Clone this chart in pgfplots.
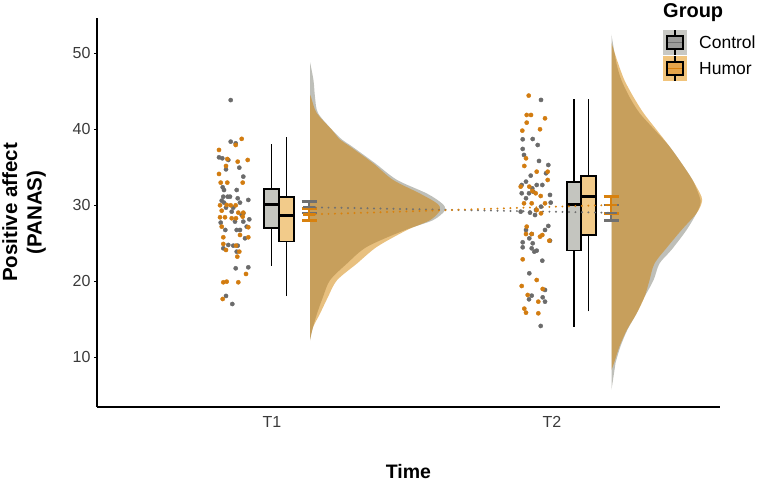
\documentclass[border=0pt]{standalone}
\usepackage{pgfplots}
\pgfplotsset{compat=1.18}
\usepackage{pgfplotstable}
\usepackage{fontspec}
\setmainfont{Liberation Sans}

\definecolor{ptgray}{HTML}{6B6B6B}
\definecolor{ptorange}{HTML}{D27C10}
\definecolor{boxgray}{HTML}{C4C5BF}
\definecolor{boxorange}{HTML}{F2CB8A}
\definecolor{viogray}{HTML}{BEBFB9}
\definecolor{vioorange}{HTML}{D18100}
\definecolor{errgray}{HTML}{707070}
\definecolor{errorange}{HTML}{D8810E}
\definecolor{keybggray}{HTML}{C8C8C3}
\definecolor{keyboxgray}{HTML}{9C9C9A}
\definecolor{keybgorange}{HTML}{F1C47C}
\definecolor{keyboxorange}{HTML}{E6A54A}
\definecolor{ticktext}{HTML}{3A3A3A}

% violin profiles: value v, half-width w (px)
\pgfplotstableread{
v w
12.2 0
13.9 3
15.7 7
17.9 13
20.1 20
22.3 37
24.5 57
26.7 95
28.0 123
29.3 135
30.2 132
31.5 117
33.3 87
35.5 65
37.7 42
38.6 32
39.9 22
42.1 8
44.2 5
46.4 3.5
48.8 0
}\vioCtrlTone
\pgfplotstableread{
v w
12.2 0
13.9 3
15.7 10
17.9 18
20.1 27
22.3 47
24.5 67
26.7 97
28.0 120
29.3 130
30.2 127
31.5 110
33.3 83
35.5 63
37.7 40
38.6 30
39.9 21.7
42.1 6.7
44.2 1
44.5 0
}\vioHumTone
\pgfplotstableread{
v w
5.7 0
8.3 3
9.2 4
11.4 9
13.6 16
15.7 25
17.9 33
20.1 42
22.3 48
24.1 60
26.7 75
28.9 85
30.2 89
31.1 88
33.3 81
35.5 70
37.7 58
39.9 43
42.1 28
44.2 18
46.4 10
48.6 5
52.4 0
}\vioCtrlTtwo
\pgfplotstableread{
v w
8.3 0
9.2 2.5
11.4 8
13.6 15.5
15.7 25
17.9 33
20.1 38
22.3 43
24.5 56
26.7 70
28.9 85
30.2 90
31.1 90
33.3 81
35.5 70
37.7 58
39.9 45
42.1 32
44.2 22
46.4 13
48.6 6.7
51.3 0
}\vioHumTtwo

\begin{document}
\begin{tikzpicture}
\path[use as bounding box] (0,0) rectangle (765pt,482pt);
\begin{axis}[
  at={(97pt,75pt)}, anchor=south west,
  scale only axis, width=623pt, height=389pt,
  xmin=97, xmax=720, ymin=3.42, ymax=54.6,
  axis lines*=left,
  axis line style={line width=1.1pt, -},
  xtick={272,552}, xticklabels={T1,T2},
  ytick={10,20,30,40,50},
  tick align=outside, major tick length=3pt,
  x tick style={draw=none},
  y tick style={line width=0.8pt, black},
  tick label style={font=\fontsize{16}{19}\selectfont, text=ticktext},
  xticklabel style={yshift=-3pt},
  /pgf/number format/assume math mode=true,
  xlabel={Time},
  xlabel style={at={(axis description cs:0.5,0)}, anchor=center, yshift=-65pt, font=\bfseries\fontsize{19.5}{22}\selectfont},
  ylabel={Positive affect\\(PANAS)},
  ylabel style={at={(axis description cs:0,0.5)}, anchor=center, yshift=73pt, align=center, font=\bfseries\fontsize{20.5}{24.5}\selectfont},
]
% ---- jittered points ----
\addplot[only marks, mark=*, mark size=2.1pt, color=ptgray] coordinates {
(230.7,43.8) (230.7,38.33) (235.7,38.11) (219.0,36.27) (222.3,36.14) (228.3,35.92)
(226.0,34.69) (239.3,34.91) (243.3,33.73) (222.7,32.33) (224.0,31.97) (236.7,31.97)
(223.3,31.09) (227.7,31.09) (230.0,31.09) (237.7,30.88) (248.3,30.66) (221.7,30.57)
(224.0,30.31) (240.0,30.31) (226.0,29.65) (233.3,29.65) (231.7,29.12) (243.3,28.90)
(241.7,28.68) (220.7,27.68) (235.0,27.81) (243.3,27.81) (249.3,28.11) (236.7,26.71)
(240.0,26.71) (225.3,26.71) (246.7,27.15) (245.0,25.62) (228.3,24.74) (233.3,24.65)
(237.7,24.65) (223.3,24.30) (236.7,23.86) (248.3,21.80) (235.7,21.67) (226.0,18.03)
(232.3,16.97)
(541.0,43.82) (522.7,38.64) (532.7,38.68) (522.7,37.37) (537.7,37.89) (524.0,36.58)
(539.0,35.79) (548.3,35.26) (546.0,34.17) (530.7,33.86) (521.7,32.63) (526.0,33.07)
(536.7,32.63) (542.3,32.63) (532.3,32.19) (533.3,31.75) (521.7,31.54) (529.0,31.54)
(550.0,31.32) (526.0,30.88) (541.0,29.78) (536.0,29.34) (530.0,28.99) (550.7,30.31)
(535.0,28.68) (520.7,29.12) (548.3,27.24) (526.0,26.71) (545.0,26.71) (531.7,26.18)
(522.7,25.09) (529.3,25.61) (532.7,24.96) (550.0,25.30) (522.7,24.43) (531.7,24.30)
(534.3,23.86) (536.7,23.99) (542.3,22.67) (529.3,21.01) (545.0,18.82) (531.7,18.07)
(529.0,17.59) (542.7,17.85) (545.0,17.28) (540.7,14.08)
};
\addplot[only marks, mark=*, mark size=2.1pt, color=ptorange] coordinates {
(241.7,38.7) (235.7,37.89) (219.0,37.24) (227.3,36.05) (237.7,35.70) (247.7,35.92)
(226.0,35.13) (219.0,34.08) (220.7,32.94) (227.3,32.94) (242.7,32.94) (220.0,29.96)
(226.7,30.0) (230.7,29.96) (235.7,29.96) (221.7,29.25) (238.3,28.99) (243.3,28.99)
(220.0,28.38) (225.0,28.38) (231.7,28.25) (236.0,28.25) (242.7,28.46) (221.7,27.15)
(248.3,27.07) (223.3,25.75) (240.0,26.05) (248.3,25.75) (223.3,24.87) (236.0,24.65)
(226.0,24.08) (239.3,23.86) (237.3,23.20) (246.0,20.92) (223.3,19.83) (226.7,19.91)
(238.3,19.83) (222.7,17.63)
(528.7,44.39) (526.7,41.84) (531.0,41.84) (545.0,41.40) (526.7,40.83) (540.0,39.96)
(522.3,39.78) (526.0,36.14) (524.3,35.13) (547.7,34.38) (536.7,34.38) (547.7,33.29)
(520.7,32.41) (529.3,32.41) (532.3,31.84) (535.7,31.54) (540.7,31.18) (524.0,30.22)
(531.7,30.22) (545.0,30.22) (536.7,29.34) (541.0,28.90) (526.7,27.15) (526.0,26.18)
(531.7,26.18) (540.0,25.83) (549.3,25.30) (542.3,26.05) (522.7,22.85) (536.7,20.13)
(521.7,19.34) (542.7,18.95) (527.7,18.16) (538.3,17.28) (524.3,16.36) (526.0,15.83)
(538.3,15.75)
};
% ---- boxplots (whiskers, boxes, medians) ----
\addplot[black, line width=1.6pt, no markers] coordinates {(271.5,22) (271.5,38)};
\addplot[fill=boxgray, draw=black, line width=1.8pt, no markers] coordinates {(264,27) (279,27) (279,32.05) (264,32.05)} -- cycle;
\addplot[black, line width=3pt, no markers] coordinates {(264,30) (279,30)};
\addplot[black, line width=1.6pt, no markers] coordinates {(286.5,18) (286.5,39)};
\addplot[fill=boxorange, draw=black, line width=1.8pt, no markers] coordinates {(279,25.2) (294,25.2) (294,31) (279,31)} -- cycle;
\addplot[black, line width=3pt, no markers] coordinates {(279,28.55) (294,28.55)};
\addplot[black, line width=1.6pt, no markers] coordinates {(574,14) (574,44)};
\addplot[fill=boxgray, draw=black, line width=1.8pt, no markers] coordinates {(567,24) (581,24) (581,33) (567,33)} -- cycle;
\addplot[black, line width=3pt, no markers] coordinates {(567,30.1) (581,30.1)};
\addplot[black, line width=1.6pt, no markers] coordinates {(588.5,16) (588.5,44)};
\addplot[fill=boxorange, draw=black, line width=1.8pt, no markers] coordinates {(581,26) (596,26) (596,33.8) (581,33.8)} -- cycle;
\addplot[black, line width=3pt, no markers] coordinates {(581,31.1) (596,31.1)};
% ---- half violins ----
\addplot[fill=viogray, draw=none, smooth, no markers] table[x expr={310+\thisrow{w}}, y=v] {\vioCtrlTone};
\addplot[fill=vioorange, fill opacity=0.5, draw=none, smooth, no markers] table[x expr={310+\thisrow{w}}, y=v] {\vioHumTone};
\addplot[fill=viogray, draw=none, smooth, no markers] table[x expr={611.5+\thisrow{w}}, y=v] {\vioCtrlTtwo};
\addplot[fill=vioorange, fill opacity=0.5, draw=none, smooth, no markers] table[x expr={611.5+\thisrow{w}}, y=v] {\vioHumTtwo};
% ---- means with error bars ----
\addplot[only marks, mark=-, mark size=6pt, mark options={line width=2.2pt}, color=errgray,
  error bars/.cd, y dir=both, y explicit, error mark=|,
  error bar style={line width=1.5pt, errgray},
  error mark options={line width=2.4pt, mark size=7.5pt, errgray}]
  coordinates {(309,29.7) +- (0,0.77) (611,28.97) +- (0,1.03)};
\addplot[only marks, mark=-, mark size=6pt, mark options={line width=2.2pt}, color=errorange,
  error bars/.cd, y dir=both, y explicit, error mark=|,
  error bar style={line width=1.5pt, errorange},
  error mark options={line width=2.4pt, mark size=7.5pt, errorange}]
  coordinates {(309,28.75) +- (0,0.8) (611,30.0) +- (0,1.1)};
% ---- dotted connecting lines ----
\addplot[errgray, line width=2.2pt, line cap=round, dash pattern=on 0pt off 6.5pt, no markers] coordinates {(309,29.7) (611,28.97)};
\addplot[errorange, line width=2.2pt, line cap=round, dash pattern=on 0pt off 6.5pt, no markers] coordinates {(309,28.75) (611,30.0)};
\end{axis}
% ---- legend ----
\node[anchor=base west, inner sep=0pt, font=\bfseries\fontsize{20}{24}\selectfont] at (663pt,464pt) {Group};
\fill[keybggray] (663pt,427pt) rectangle (687pt,452pt);
\draw[black, line width=1.3pt] (675pt,427pt) -- (675pt,452pt);
\filldraw[fill=keyboxgray, draw=black, line width=1.4pt] (667pt,433pt) rectangle (683pt,446pt);
\draw[errgray, line width=1.8pt] (667.8pt,439.5pt) -- (682.2pt,439.5pt);
\fill[keybgorange] (663pt,401pt) rectangle (687pt,426pt);
\draw[black, line width=1.3pt] (675pt,401pt) -- (675pt,426pt);
\filldraw[fill=keyboxorange, draw=black, line width=1.4pt] (667pt,407pt) rectangle (683pt,420pt);
\draw[errorange, line width=1.8pt] (667.8pt,413.5pt) -- (682.2pt,413.5pt);
\node[anchor=base west, inner sep=0pt, font=\fontsize{17.5}{21}\selectfont] at (699pt,433pt) {Control};
\node[anchor=base west, inner sep=0pt, font=\fontsize{17.5}{21}\selectfont] at (699pt,407pt) {Humor};
\end{tikzpicture}
\end{document}
